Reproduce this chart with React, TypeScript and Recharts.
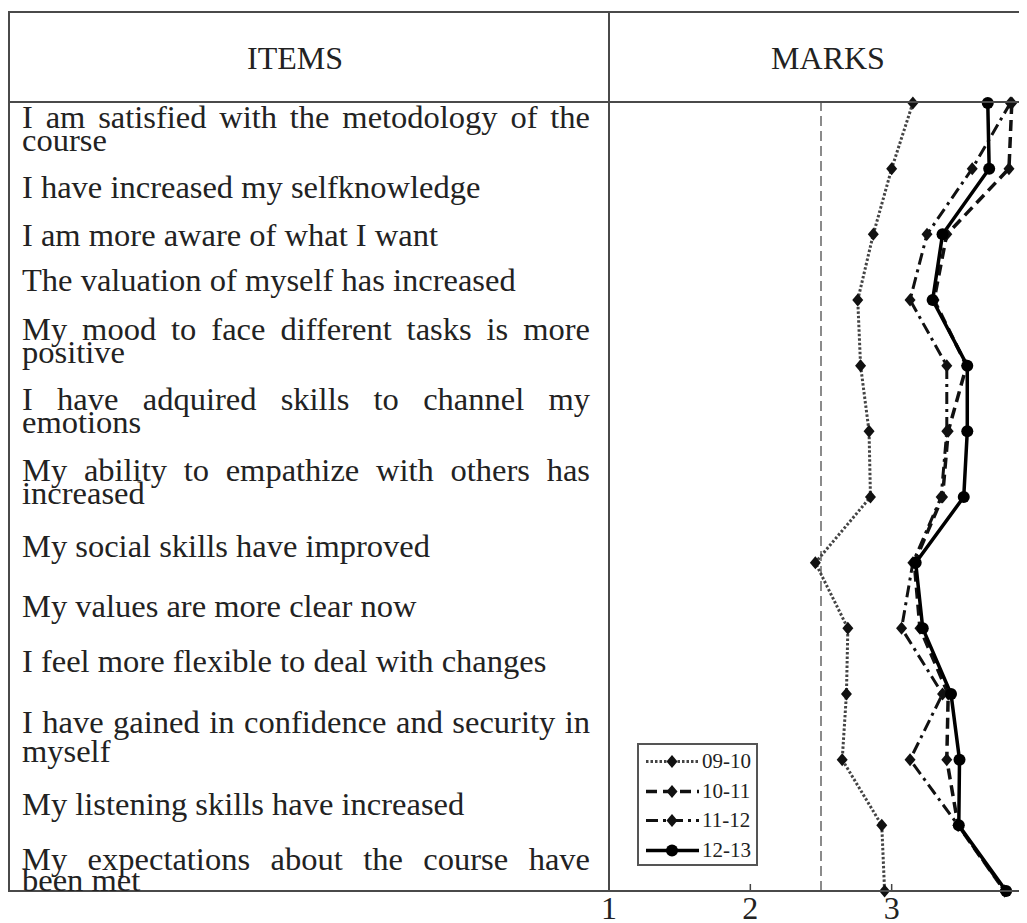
import React from 'react';
import { LineChart, Line, XAxis, YAxis, ReferenceLine, Legend } from 'recharts';

// ---------- data ----------
const items = [
  'I am satisfied with the metodology of the\ncourse',
  'I have increased my selfknowledge',
  'I am more aware of what I want',
  'The valuation of myself has increased',
  'My mood to face different tasks is more\npositive',
  'I have adquired skills to channel my\nemotions',
  'My ability to empathize with others has\nincreased',
  'My social skills have improved',
  'My values are more clear now',
  'I feel more flexible to deal with changes',
  'I have gained in confidence and security in\nmyself',
  'My listening skills have increased',
  'My expectations about the course have\nbeen met',
];
const markTicks = [1, 2, 3, 4];
const itemTicks = [1, 2, 3, 4, 5, 6, 7, 8, 9, 10, 11, 12, 13];
const referenceMark = 2.5;
const seriesNames = ['09-10', '10-11', '11-12', '12-13'];
const s0910 = [3.15, 3.0, 2.87, 2.76, 2.78, 2.84, 2.85, 2.46, 2.69, 2.68, 2.65, 2.93, 2.95];
const s1011 = [3.85, 3.83, 3.39, 3.3, 3.53, 3.4, 3.36, 3.16, 3.2, 3.4, 3.39, 3.47, 3.8];
const s1112 = [3.84, 3.57, 3.25, 3.13, 3.39, 3.39, 3.35, 3.15, 3.07, 3.36, 3.13, 3.47, 3.8];
const s1213 = [3.68, 3.69, 3.36, 3.29, 3.535, 3.535, 3.51, 3.17, 3.22, 3.42, 3.48, 3.475, 3.81];

const rows = items.map((name, i) => ({
  idx: i + 1,
  name,
  s0910: s0910[i],
  s1011: s1011[i],
  s1112: s1112[i],
  s1213: s1213[i],
}));

// ---------- styles / layout ----------
const SERIF = "'Liberation Serif', 'Times New Roman', serif";
const TEXT = '#222';
const seriesKeys = ['s0910', 's1011', 's1112', 's1213'];
const seriesStyle: Record<string, { stroke: string; dash?: string; width: number; marker: 'diamond' | 'circle' }> = {
  s0910: { stroke: '#444', dash: '2.5 2', width: 3, marker: 'diamond' },
  s1011: { stroke: '#111', dash: '11 6', width: 3.5, marker: 'diamond' },
  s1112: { stroke: '#111', dash: '12 5 3 5', width: 3, marker: 'diamond' },
  s1213: { stroke: '#000', width: 3.5, marker: 'circle' },
};
// page-coordinate baselines of the first line of each row of the ITEMS column
const rowBaselines = [128, 198, 246, 291, 340, 410, 481, 557, 617, 672, 733, 815, 870];
const rowLineGaps = [23, 23, 23, 23, 23, 23, 23, 23, 23, 23, 29, 23, 21];

const Marker = ({ cx, cy, kind }: { cx: number; cy: number; kind: 'diamond' | 'circle' }) => {
  if (cx == null || cy == null) return null;
  if (kind === 'circle') return <circle cx={cx} cy={cy} r={6} fill="#000" />;
  return (
    <polygon
      points={`${cx},${cy - 6.5} ${cx + 5.5},${cy} ${cx},${cy + 6.5} ${cx - 5.5},${cy}`}
      fill="#111"
    />
  );
};

const renderLegend = () => (
  <div
    style={{
      width: 121,
      height: 123,
      boxSizing: 'border-box',
      border: '2px solid #555',
      background: '#fff',
      paddingTop: 2,
    }}
  >
    {seriesKeys.map((k, i) => {
      const st = seriesStyle[k];
      return (
        <div key={k} style={{ display: 'flex', alignItems: 'center', height: 29.5 }}>
          <svg width={58} height={29} style={{ marginLeft: 4, display: 'block' }}>
            <line x1={3} y1={14.5} x2={56} y2={14.5} stroke={st.stroke} strokeWidth={st.width} strokeDasharray={st.dash} />
            <Marker cx={29} cy={14.5} kind={st.marker} />
          </svg>
          <span style={{ fontFamily: SERIF, fontSize: 21, color: TEXT, marginLeft: 1, lineHeight: '21px' }}>
            {seriesNames[i]}
          </span>
        </div>
      );
    })}
  </div>
);

const hLine = (top: number, left: number, width: number) => (
  <div style={{ position: 'absolute', top: top - 8, left: left - 8, width, height: 2, background: '#4a4a4a' }} />
);
const vLine = (left: number, top: number, height: number) => (
  <div style={{ position: 'absolute', top: top - 8, left: left - 8, width: 2, height, background: '#4a4a4a' }} />
);

export default function App() {
  return (
    <div style={{ position: 'relative', width: 1019, height: 915, overflow: 'hidden', background: '#fff' }}>
      <div style={{ position: 'absolute', left: 0, top: 0 }}>
        <LineChart
          layout="vertical"
          width={1045}
          height={915}
          data={rows}
          margin={{ top: 95, right: 20, bottom: 2, left: 601 }}
        >
          <XAxis
            xAxisId="bottom"
            type="number"
            orientation="bottom"
            domain={[1, 4]}
            ticks={markTicks}
            interval={0}
            height={30}
            axisLine={false}
            tickSize={-7}
            tickMargin={12}
            tickLine={{ stroke: '#444', strokeWidth: 1.5 }}
            tick={{ fill: TEXT, fontSize: 32, fontFamily: SERIF }}
            allowDataOverflow
          />
          <XAxis
            xAxisId="top"
            type="number"
            orientation="top"
            domain={[1, 4]}
            ticks={markTicks}
            interval={0}
            height={0}
            axisLine={false}
            tickSize={-4}
            tickLine={{ stroke: '#777', strokeWidth: 1 }}
            tickFormatter={() => ''}
          />
          <YAxis
            yAxisId="left"
            type="number"
            dataKey="idx"
            domain={[1, 13]}
            ticks={itemTicks}
            interval={0}
            width={0}
            axisLine={false}
            tickSize={-4}
            tickLine={{ stroke: '#888', strokeWidth: 1 }}
            tickFormatter={() => ''}
          />
          <YAxis
            yAxisId="right"
            orientation="right"
            type="number"
            domain={[1, 13]}
            ticks={itemTicks}
            interval={0}
            width={0}
            axisLine={false}
            tickSize={-10}
            tickLine={{ stroke: '#888', strokeWidth: 1 }}
            tickFormatter={() => ''}
          />
          <ReferenceLine
            xAxisId="bottom"
            yAxisId="left"
            x={referenceMark}
            stroke="#666"
            strokeWidth={1.5}
            strokeDasharray="10 5"
          />
          {seriesKeys.map((k) => {
            const st = seriesStyle[k];
            return (
              <Line
                key={k}
                xAxisId="bottom"
                yAxisId="left"
                dataKey={k}
                stroke={st.stroke}
                strokeWidth={st.width}
                strokeDasharray={st.dash}
                isAnimationActive={false}
                dot={(p: any) => <Marker key={`${k}-${p.index}`} cx={p.cx} cy={p.cy} kind={st.marker} />}
                activeDot={false}
              />
            );
          })}
          <Legend
            content={renderLegend}
            layout="horizontal"
            align="center"
            verticalAlign="middle"
            wrapperStyle={{ left: 629, top: 735, width: 121, height: 123 }}
          />
        </LineChart>
      </div>

      {/* table frame */}
      {hLine(11, 8, 1100)}
      {hLine(101, 8, 1100)}
      {hLine(890, 8, 1100)}
      {vLine(8, 11, 881)}
      {vLine(608, 11, 881)}

      {/* header texts */}
      <div style={{ position: 'absolute', left: 295 - 8 - 300, width: 600, top: 69 - 8 - 26.8, textAlign: 'center', fontFamily: SERIF, fontSize: 32, lineHeight: '32px', color: TEXT }}>
        ITEMS
      </div>
      <div style={{ position: 'absolute', left: 828 - 8 - 150, width: 300, top: 69 - 8 - 26.8, textAlign: 'center', fontFamily: SERIF, fontSize: 32, lineHeight: '32px', color: TEXT }}>
        MARKS
      </div>

      {/* ITEMS column */}
      {items.map((txt, i) => {
        const lines = txt.split('\n');
        return lines.map((ln, j) => {
          const justify = j < lines.length - 1;
          return (
            <div
              key={`${i}-${j}`}
              style={{
                position: 'absolute',
                left: 22 - 8,
                width: 568,
                top: rowBaselines[i] + j * rowLineGaps[i] - 8 - 26.8,
                fontFamily: SERIF,
                fontSize: 32.5,
                lineHeight: '32px',
                color: TEXT,
                textAlign: justify ? 'justify' : 'left',
                textAlignLast: justify ? 'justify' : 'left',
              }}
            >
              {ln}
            </div>
          );
        });
      })}
    </div>
  );
}
